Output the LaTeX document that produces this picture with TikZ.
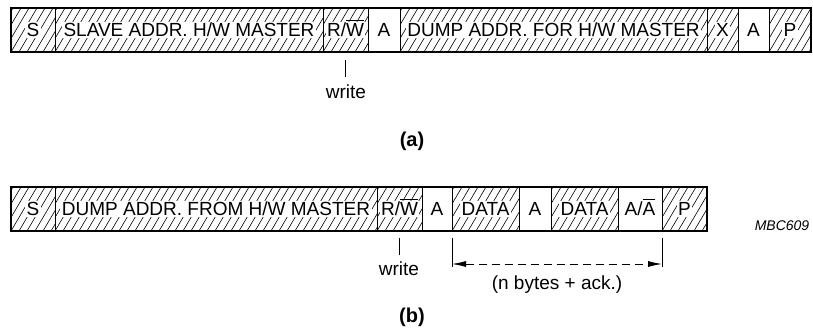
\documentclass[tikz,border=0pt]{standalone}
\usepackage{fontspec}
\setmainfont{Liberation Sans}
\usetikzlibrary{arrows.meta}
\newcommand\myovl[1]{\sbox0{#1}\rlap{\raisebox{\dimexpr\ht0+2.5pt\relax}{\rule{\wd0}{0.9pt}}}#1}
\newcommand\cb[1]{{\fboxsep=1.5pt\colorbox{white}{\raisebox{0pt}[13.7pt][0pt]{#1}}}}
\newcommand\tb[1]{{\fboxsep=1.5pt\fbox{\raisebox{0pt}[13.7pt][0pt]{#1}}}}
\newcommand\pb[1]{\raisebox{0pt}[13.7pt][0pt]{#1}}
\tikzset{
  cell/.style={draw=black, line width=0.9pt, inner sep=0pt, outer sep=0pt,
    minimum height=44pt, font=\fontsize{19}{22}\selectfont},
  hatch/.style={path picture={
    \foreach \i in {-5,...,42}
      \draw[line width=0.6pt] ([xshift=\i*8pt]path picture bounding box.south west) -- ++(26pt,44pt);
  }},
  outerbox/.style={draw=black, line width=1.5pt},
  lbl/.style={inner sep=1pt, font=\fontsize{19}{22}\selectfont},
  tick/.style={line width=0.9pt},
  dim/.style={line width=0.9pt, dash pattern=on 8pt off 5pt,
    {Latex[length=14pt,width=6pt]}-{Latex[length=14pt,width=6pt]}},
}
\begin{document}
\begin{tikzpicture}[x=1pt,y=-1pt]
\useasboundingbox (0,0) rectangle (813,329);
% row (a)
\node[cell,hatch,minimum width=44pt]  (s1)    at (33,30)    {\cb{S}};
\node[cell,hatch,minimum width=268pt] (slave) at (189,30)   {\cb{SLAVE ADDR. H/W MASTER}};
\node[cell,hatch,minimum width=45pt]  (rw1)   at (345.5,30) {\cb{R/\myovl{W}}};
\node[cell,minimum width=32pt]        (a1)    at (384,30)   {\pb{A}};
\node[cell,hatch,minimum width=307pt] (dump1) at (553.5,30) {\cb{DUMP ADDR. FOR H/W MASTER}};
\node[cell,hatch,minimum width=31pt]  (x1)    at (722.5,30) {\cb{X}};
\node[cell,minimum width=31pt]        (a2)    at (753.5,30) {\pb{A}};
\node[cell,hatch,minimum width=42pt]  (p1)    at (790,30)   {\cb{P}};
\draw[outerbox] (s1.north west) rectangle (p1.south east);
\coordinate (t1a) at (345.5,60);
\coordinate (t1b) at (345.5,77);
\draw[tick] (t1a) -- (t1b);
\node[lbl] (w1) at (346,92) {write};
\node[lbl, font=\fontsize{20}{24}\selectfont\bfseries] (capa) at (412,141) {(a)};
% row (b)
\node[cell,hatch,minimum width=44pt]  (s2)    at (33,209)    {\cb{S}};
\node[cell,hatch,minimum width=322pt] (dump2) at (216,209)   {\cb{DUMP ADDR. FROM H/W MASTER}};
\node[cell,hatch,minimum width=45pt]  (rw2)   at (399.5,209) {\cb{R/\myovl{W}}};
\node[cell,minimum width=30pt]        (a3)    at (437,209)   {\pb{A}};
\node[cell,hatch,minimum width=67pt]  (d1)    at (485.5,209) {\cb{DATA}};
\node[cell,minimum width=32pt]        (a4)    at (535,209)   {\pb{A}};
\node[cell,hatch,minimum width=67pt]  (d2)    at (584.5,209) {\cb{DATA}};
\node[cell,minimum width=44pt]        (aa)    at (640,209)   {\pb{A/\myovl{A}}};
\node[cell,hatch,minimum width=45pt]  (p2)    at (684.5,209) {\cb{P}};
\draw[outerbox] (s2.north west) rectangle (p2.south east);
\coordinate (t2a) at (399.5,238);
\coordinate (t2b) at (399.5,255);
\draw[tick] (t2a) -- (t2b);
\node[lbl] (w2) at (399,269) {write};
\coordinate (l1a) at (452,238);
\coordinate (l1b) at (452,267);
\coordinate (l2a) at (662,238);
\coordinate (l2b) at (662,267);
\draw[tick] (l1a) -- (l1b);
\draw[tick] (l2a) -- (l2b);
\coordinate (arl) at (452,264);
\coordinate (arr) at (662,264);
\draw[dim] (arl) -- (arr);
\node[lbl] (nb) at (557,285) {(n bytes + ack.)};
\node[lbl, font=\fontsize{20}{24}\selectfont\bfseries] (capb) at (412,317) {(b)};
\node[lbl, font=\fontsize{14}{16}\selectfont\itshape] (mbc) at (782,226) {MBC609};
\end{tikzpicture}
\end{document}
